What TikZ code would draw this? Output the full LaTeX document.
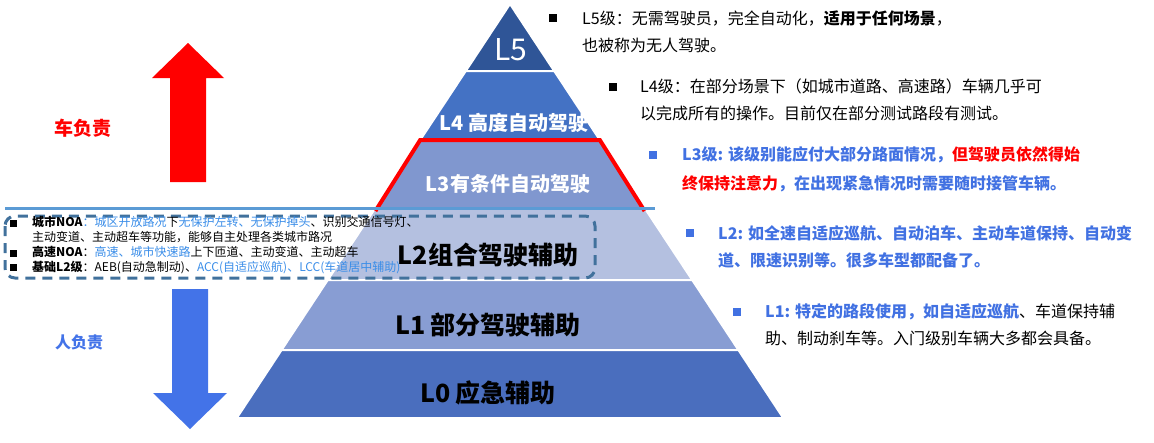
\documentclass[tikz,border=0pt]{standalone}
\usepackage{fontspec}
\setmainfont{Noto Sans CJK SC}
\usepackage{xcolor}
\usetikzlibrary{positioning}

\definecolor{lvfive}{HTML}{2F5597}
\definecolor{lvfour}{HTML}{4472C4}
\definecolor{lvthree}{HTML}{8097CF}
\definecolor{lvtwo}{HTML}{B4C0E0}
\definecolor{lvone}{HTML}{889DD3}
\definecolor{lvzero}{HTML}{4A6EBE}
\definecolor{descblue}{HTML}{4171E2}
\definecolor{linkblue}{HTML}{3A8DE8}
\definecolor{dashblue}{HTML}{41719C}
\definecolor{sepblue}{HTML}{5B9BD5}
\definecolor{downblue}{HTML}{4373E8}

\begin{document}
\begin{tikzpicture}[
  x=1pt, y=-1pt,
  band/.style={draw=white, line width=2pt},
  lvlight/.style={inner sep=0, text=white, font=\fontsize{30}{34}\selectfont},
  lvwhite/.style={inner sep=0, text=white, font=\fontsize{20}{24}\selectfont\bfseries},
  lvblack/.style={inner sep=0, text=black, font=\fontsize{25}{30}\selectfont\bfseries},
  bulletsq/.style={fill=#1, minimum size=8pt, inner sep=0},
  desc/.style={anchor=west, align=left, inner sep=0, font=\fontsize{16}{27}\selectfont},
  boxtext/.style={anchor=west, align=left, inner sep=0, font=\fontsize{12}{14.7}\selectfont},
  side/.style={inner sep=0, font=\fontsize{#1}{#1}\selectfont\bfseries},
]
\useasboundingbox (0,0) rectangle (1154,442);

% Pyramid bands, top to bottom
\path[band, fill=lvfive]  (510,4) -- (554.2,71) -- (465.8,71) -- cycle;
\path[band, fill=lvfour]  (465.8,71) -- (554.2,71) -- (599.8,140) -- (420.2,140) -- cycle;
\path[band, fill=lvthree] (420.2,140) -- (599.8,140) -- (644.6,208) -- (375.4,208) -- cycle;
\path[band, fill=lvtwo]   (375.4,208) -- (644.6,208) -- (692.2,280) -- (327.8,280) -- cycle;
\path[band, fill=lvone]   (327.8,280) -- (692.2,280) -- (738.4,350) -- (281.6,350) -- cycle;
\path[band, fill=lvzero]  (281.6,350) -- (738.4,350) -- (783.2,418) -- (236.8,418) -- cycle;

% L3 highlight and the car/person split
\draw[red, line width=4pt] (375.4,211) -- (420.2,140) -- (599.8,140) -- (644.6,211);
\coordinate (splitl) at (5,208);
\coordinate (splitr) at (655,208);
\draw[sepblue, line width=3pt] (splitl) -- (splitr);

% Band labels
\node[lvlight] (l5) at (511,50)  {L5};
\node[lvwhite] (l4) at (514,123) {L4 高度自动驾驶};
\node[lvwhite] (l3) at (508,184) {L3有条件自动驾驶};
\node[lvblack] (l2) at (488,255) {L2组合驾驶辅助};
\node[lvblack] (l1) at (488,325) {L1 部分驾驶辅助};
\node[lvblack] (l0) at (488,393) {L0 应急辅助};

% L2 detail box
\draw[dashblue, line width=3pt, rounded corners=10pt, dash pattern=on 10pt off 7pt]
  (5,216) rectangle (595,278);
\node[bulletsq=black, minimum size=7pt] (ba) at (13,223) {};
\node[bulletsq=black, minimum size=7pt] (bb) at (13,253) {};
\node[bulletsq=black, minimum size=7pt] (bc) at (13,267) {};
\node[boxtext] (noa) at (32,245) {%
  \textbf{城市NOA}\textcolor{linkblue}{：城区开放路况}下\textcolor{linkblue}{无保护左转、无保护掉头}、识别交通信号灯、\\
  主动变道、主动超车等功能，能够自主处理各类城市路况\\
  \textbf{高速NOA}：\textcolor{linkblue}{高速、城市快速路}上下匝道、主动变道、主动超车\\
  \textbf{基础L2级}：AEB(自动急制动)、\textcolor{linkblue}{ACC(自适应巡航)、LCC(车道居中辅助)}};

% Level descriptions
\node[bulletsq=black] (b5) at (553,18) {};
\node[desc] (d5) at (582,31.5) {L5级：无需驾驶员，完全自动化，\textbf{适用于任何场景}，\\也被称为无人驾驶。};
\node[bulletsq=black] (b4) at (613,87) {};
\node[desc] (d4) at (640,100) {L4级：在部分场景下（如城市道路、高速路）车辆几乎可\\以完成所有的操作。目前仅在部分测试路段有测试。};
\node[bulletsq=descblue] (b3) at (653,155) {};
\node[desc, font=\fontsize{16}{29}\selectfont\bfseries, text=descblue] (d3) at (682,169.5)
  {L3级: 该级别能应付大部分路面情况，\textcolor{red}{但驾驶员依然得始}\\\textcolor{red}{终保持注意力}，在出现紧急情况时需要随时接管车辆。};
\node[bulletsq=descblue] (b2) at (690,233) {};
\node[desc, font=\fontsize{16}{27}\selectfont\bfseries, text=descblue] (d2) at (718,246.5)
  {L2: 如全速自适应巡航、自动泊车、主动车道保持、自动变\\道、限速识别等。很多车型都配备了。};
\node[bulletsq=descblue] (b1) at (737,312) {};
\node[desc] (d1) at (765,325)
  {\textcolor{descblue}{\textbf{L1: 特定的路段使用，如自适应巡航}}、车道保持辅\\助、制动刹车等。入门级别车辆大多都会具备。};

% Responsibility arrows
\fill[red] (170,182) -- (170,78) -- (152,78) -- (188,43) -- (224,78) -- (206,78) -- (206,182) -- cycle;
\node[side=19, text=red] (car) at (83,128) {车负责};
\fill[downblue] (172,289) -- (208,289) -- (208,393) -- (227,393) -- (190,429) -- (153,393) -- (172,393) -- cycle;
\node[side=16, text=downblue] (man) at (79,342) {人负责};
\end{tikzpicture}
\end{document}
